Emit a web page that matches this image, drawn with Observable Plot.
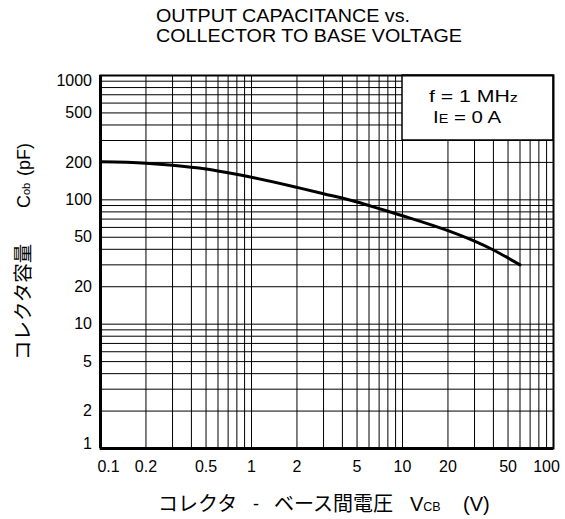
<!DOCTYPE html>
<html><head><meta charset="utf-8">
<script src="https://cdn.jsdelivr.net/npm/d3@7"></script>
<script src="https://cdn.jsdelivr.net/npm/@observablehq/plot@0.6"></script>
<style>
html,body{margin:0;padding:0;background:#fff;}
</style></head><body><div id="chart"></div>
<script>
// Curve: collector-to-base voltage (V) vs output capacitance (pF)
const vcb = [0.1, 0.2, 0.3, 0.5, 0.7, 1, 2, 3, 5, 7, 10, 20, 30, 40, 60];
const cob = [202, 197, 190, 177, 165, 152, 126, 112, 96, 85, 74.5, 56.5, 46.5, 39.5, 30];

// Tick labels
const xTicks = [0.1, 0.2, 0.5, 1, 2, 5, 10, 20, 50, 100];
const yTicks = [1, 2, 5, 10, 20, 50, 100, 200, 500, 1000];

// Grid lines
const xGrid = [0.1,0.2,0.3,0.4,0.5,0.6,0.7,0.8,0.9,1,2,3,4,5,6,7,8,9,10,20,30,40,50,60,70,80,90,100];
const yGrid = [1,2,3,4,5,6,7,8,9,10,20,30,40,50,60,70,80,90,100,200,300,400,500,600,700,800,900,1000];

// Condition note box (x from 10 to 100 V, y from 300 to 1000 pF)
const noteBox = [{x1: 10, x2: 100, y1: 300, y2: 1000}];

const curve = vcb.map((v, i) => ({v, c: cob[i]}));
const fmt = d => String(d);
const mid = (arr) => arr.slice(1, arr.length - 1);
const first = (arr) => [arr[0]];
const last = (arr) => [arr[arr.length - 1]];

const xLab = (data, dx) => Plot.text(data, {x: d => d, text: fmt, frameAnchor: "bottom", lineAnchor: "top", dy: 12, dx, fontSize: 16, fill: "#000"});
const yLab = (data, dy) => Plot.text(data, {y: d => d, text: fmt, frameAnchor: "left", textAnchor: "end", dx: -8.5, dy, fontSize: 16, fill: "#000"});

const chart = Plot.plot({
  width: 565, height: 519,
  marginLeft: 100, marginRight: 12, marginTop: 75, marginBottom: 71,
  style: {fontFamily: "'Liberation Sans', Arial, sans-serif", fontSize: "16px", color: "#000", background: "#fff"},
  x: {type: "log", domain: [0.1, 100], axis: null},
  y: {type: "log", domain: [1, 1000], axis: null},
  marks: [
    Plot.ruleX(xGrid, {stroke: "#000", strokeWidth: 1}),
    Plot.ruleY(yGrid, {stroke: "#000", strokeWidth: 1}),
    Plot.rect(noteBox, {x1: "x1", x2: "x2", y1: "y1", y2: "y2", fill: "#fff", stroke: "#000", strokeWidth: 1.5}),
    Plot.line(curve, {x: "v", y: "c", curve: "monotone-x", stroke: "#000", strokeWidth: 3}),
    Plot.frame({stroke: "#000", strokeWidth: 2}),
    Plot.ruleX([0.1], {stroke: "#000", strokeWidth: 3}),
    Plot.ruleY([1], {stroke: "#000", strokeWidth: 3}),
    xLab(mid(xTicks), 0),
    xLab(first(xTicks), 8),
    xLab(last(xTicks), -7),
    yLab(mid(yTicks), 0),
    yLab(first(yTicks), -5),
    yLab(last(yTicks), 5)
  ]
});

document.getElementById("chart").appendChild(chart);

const svg = d3.select(chart);
const latin = "'Liberation Sans', Arial, sans-serif";
const cjk = "'Noto Sans CJK JP', sans-serif";
const T = (x, y, size, family) => svg.append("text").attr("x", x).attr("y", y)
  .attr("font-size", size).attr("font-family", family).attr("fill", "#000").attr("text-anchor", "start");

// Title
T(156, 21.5, 18, latin).attr("textLength", 254).attr("lengthAdjust", "spacingAndGlyphs").text("OUTPUT CAPACITANCE vs.");
T(156, 42, 18, latin).attr("textLength", 306).attr("lengthAdjust", "spacingAndGlyphs").text("COLLECTOR TO BASE VOLTAGE");

// Note box text
const n1 = T(429, 101.5, 17, latin);
n1.append("tspan").text("f = 1 MH");
n1.append("tspan").attr("font-size", 13).text("z");
n1.attr("textLength", 89).attr("lengthAdjust", "spacingAndGlyphs");
const n2 = T(433, 123.3, 17, latin);
n2.append("tspan").text("I");
n2.append("tspan").attr("font-size", 12).text("E");
n2.append("tspan").text(" = 0 A");
n2.attr("textLength", 68).attr("lengthAdjust", "spacingAndGlyphs");

// X axis title
T(158, 511, 20, cjk).text("コレクタ");
T(253, 510, 18, latin).text("-");
T(274, 511, 20, cjk).text("ベース間電圧");
const xv = T(410, 511, 20, latin);
xv.append("tspan").text("V");
xv.append("tspan").attr("font-size", 12.5).text("CB");
T(463, 511, 20, latin).text("(V)");

// Y axis title
const yt = svg.append("text").attr("transform", "translate(30,360) rotate(-90)")
  .attr("fill", "#000").attr("text-anchor", "start");
yt.append("tspan").attr("x", 0).attr("font-family", cjk).attr("font-size", 19.5).text("コレクタ容量");
yt.append("tspan").attr("x", 152).attr("font-family", latin).attr("font-size", 18).text("C");
yt.append("tspan").attr("font-family", latin).attr("font-size", 11).text("ob");
yt.append("tspan").attr("x", 184).attr("font-family", latin).attr("font-size", 18).text("(pF)");
</script>
</body></html>
